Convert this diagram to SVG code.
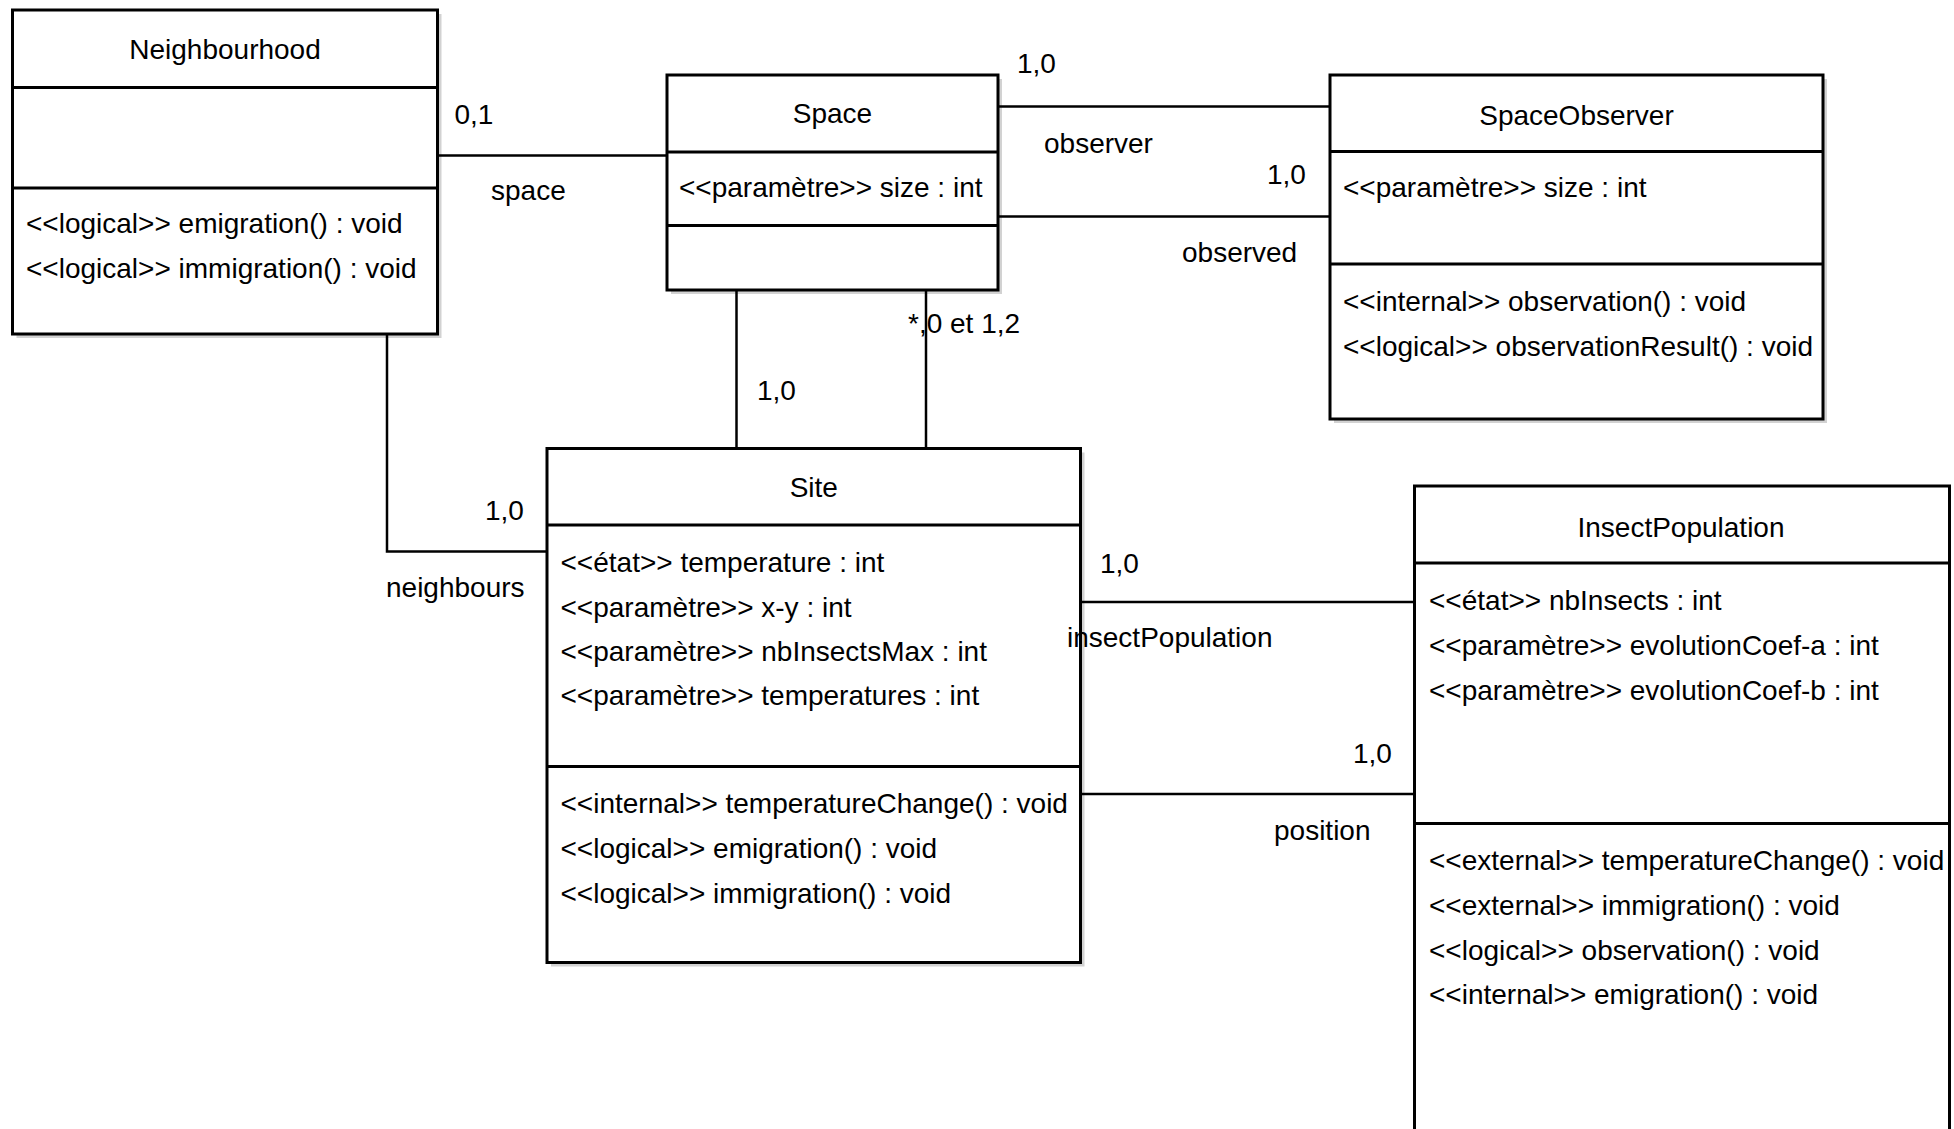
<svg xmlns="http://www.w3.org/2000/svg" width="1954" height="1129" viewBox="0 0 1954 1129">
  <style>
    .box{fill:#fff;stroke:#000;stroke-width:3}
    .shadow{fill:#d2d2d2}
    .sep{stroke:#000;stroke-width:3}
    .conn{stroke:#000;stroke-width:2.5;fill:none}
    text{font-family:"Liberation Sans",Arial,sans-serif;font-size:28px;fill:#000}
    .c{text-anchor:middle}
  </style>
  <rect width="1954" height="1129" fill="#fff"/>

  <!-- classes -->
  <g id="neighbourhood">
    <rect class="shadow" x="16.5" y="14" width="425" height="324"/>
    <rect class="box" x="12.5" y="10" width="425" height="324"/>
    <line class="sep" x1="12.5" y1="87.5" x2="437.5" y2="87.5"/>
    <line class="sep" x1="12.5" y1="188" x2="437.5" y2="188"/>
    <text class="c" x="225" y="59">Neighbourhood</text>
    <text x="26" y="233">&lt;&lt;logical&gt;&gt; emigration() : void</text>
    <text x="26" y="278">&lt;&lt;logical&gt;&gt; immigration() : void</text>
  </g>

  <g id="space">
    <rect class="shadow" x="671" y="79" width="331" height="215"/>
    <rect class="box" x="667" y="75" width="331" height="215"/>
    <line class="sep" x1="667" y1="152" x2="998" y2="152"/>
    <line class="sep" x1="667" y1="225.5" x2="998" y2="225.5"/>
    <text class="c" x="832.5" y="123">Space</text>
    <text x="679" y="197">&lt;&lt;paramètre&gt;&gt; size : int</text>
  </g>

  <g id="space-observer">
    <rect class="shadow" x="1334" y="79" width="493" height="344"/>
    <rect class="box" x="1330" y="75" width="493" height="344"/>
    <line class="sep" x1="1330" y1="151.5" x2="1823" y2="151.5"/>
    <line class="sep" x1="1330" y1="264" x2="1823" y2="264"/>
    <text class="c" x="1576.5" y="125">SpaceObserver</text>
    <text x="1343" y="197">&lt;&lt;paramètre&gt;&gt; size : int</text>
    <text x="1343" y="311">&lt;&lt;internal&gt;&gt; observation() : void</text>
    <text x="1343" y="356">&lt;&lt;logical&gt;&gt; observationResult() : void</text>
  </g>

  <g id="site">
    <rect class="shadow" x="551" y="452.5" width="533.5" height="514"/>
    <rect class="box" x="547" y="448.5" width="533.5" height="514"/>
    <line class="sep" x1="547" y1="525" x2="1080.5" y2="525"/>
    <line class="sep" x1="547" y1="766.5" x2="1080.5" y2="766.5"/>
    <text class="c" x="813.8" y="497">Site</text>
    <text x="560.5" y="572">&lt;&lt;état&gt;&gt; temperature : int</text>
    <text x="560.5" y="617">&lt;&lt;paramètre&gt;&gt; x-y : int</text>
    <text x="560.5" y="661">&lt;&lt;paramètre&gt;&gt; nbInsectsMax : int</text>
    <text x="560.5" y="705">&lt;&lt;paramètre&gt;&gt; temperatures : int</text>
    <text x="560.5" y="813">&lt;&lt;internal&gt;&gt; temperatureChange() : void</text>
    <text x="560.5" y="858">&lt;&lt;logical&gt;&gt; emigration() : void</text>
    <text x="560.5" y="903">&lt;&lt;logical&gt;&gt; immigration() : void</text>
  </g>

  <g id="insect-population">
    <rect class="box" x="1414.5" y="486" width="535" height="670"/>
    <line class="sep" x1="1414.5" y1="563" x2="1949.5" y2="563"/>
    <line class="sep" x1="1414.5" y1="823.5" x2="1949.5" y2="823.5"/>
    <text class="c" x="1681" y="537">InsectPopulation</text>
    <text x="1429" y="610">&lt;&lt;état&gt;&gt; nbInsects : int</text>
    <text x="1429" y="655">&lt;&lt;paramètre&gt;&gt; evolutionCoef-a : int</text>
    <text x="1429" y="700">&lt;&lt;paramètre&gt;&gt; evolutionCoef-b : int</text>
    <text x="1429" y="870">&lt;&lt;external&gt;&gt; temperatureChange() : void</text>
    <text x="1429" y="915">&lt;&lt;external&gt;&gt; immigration() : void</text>
    <text x="1429" y="960">&lt;&lt;logical&gt;&gt; observation() : void</text>
    <text x="1429" y="1004">&lt;&lt;internal&gt;&gt; emigration() : void</text>
  </g>

  <!-- associations -->
  <g id="connectors">
    <path class="conn" d="M437.5 155.5 H667"/>
    <path class="conn" d="M998 106.5 H1330"/>
    <path class="conn" d="M998 216.5 H1330"/>
    <path class="conn" d="M736.5 290 V448.5"/>
    <path class="conn" d="M926 290 V448.5"/>
    <path class="conn" d="M387 334 V551.5 H547"/>
    <path class="conn" d="M1080.5 602 H1414.5"/>
    <path class="conn" d="M1080.5 794 H1414.5"/>
  </g>

  <!-- role names and multiplicities -->
  <g id="labels">
    <text x="454.5" y="124">0,1</text>
    <text x="491" y="200">space</text>
    <text x="1017" y="73">1,0</text>
    <text x="1044" y="152.5">observer</text>
    <text x="1267" y="184">1,0</text>
    <text x="1182" y="261.5">observed</text>
    <text x="908" y="333">*,0 et 1,2</text>
    <text x="757" y="400">1,0</text>
    <text x="485" y="520">1,0</text>
    <text x="386" y="597">neighbours</text>
    <text x="1100" y="573">1,0</text>
    <text x="1067" y="647">insectPopulation</text>
    <text x="1353" y="763">1,0</text>
    <text x="1274" y="840">position</text>
  </g>
</svg>
